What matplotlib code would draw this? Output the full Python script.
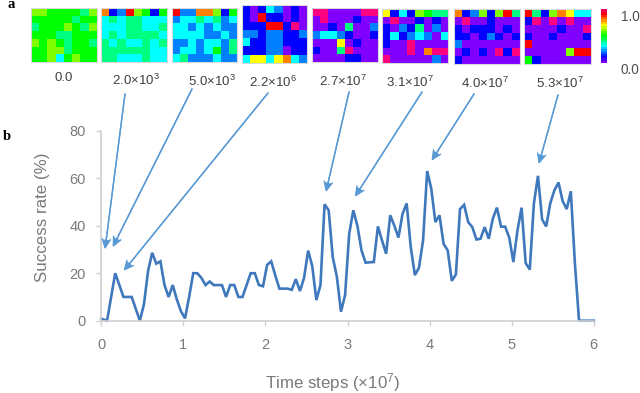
import numpy as np
import matplotlib
matplotlib.use("Agg")
import matplotlib.pyplot as plt
from matplotlib.colors import ListedColormap, LinearSegmentedColormap

W, H = 640, 393

# success rate curve
time_steps = [0.00, 0.07, 0.12, 0.17, 0.22, 0.27, 0.32, 0.37, 0.42, 0.47,
              0.52, 0.57, 0.62, 0.67, 0.72, 0.77, 0.82, 0.87, 0.92, 0.97,
              1.02, 1.07, 1.12, 1.17, 1.22, 1.27, 1.32, 1.37, 1.42, 1.47,
              1.52, 1.57, 1.62, 1.67, 1.72, 1.77, 1.82, 1.87, 1.92, 1.97,
              2.02, 2.07, 2.12, 2.17, 2.22, 2.27, 2.32, 2.37, 2.42, 2.47,
              2.52, 2.57, 2.62, 2.67, 2.72, 2.77, 2.82, 2.87, 2.92, 2.97,
              3.02, 3.07, 3.12, 3.17, 3.22, 3.27, 3.32, 3.37, 3.42, 3.47,
              3.52, 3.57, 3.62, 3.67, 3.72, 3.77, 3.82, 3.87, 3.92, 3.97,
              4.02, 4.07, 4.12, 4.17, 4.22, 4.27, 4.32, 4.37, 4.42, 4.47,
              4.52, 4.57, 4.62, 4.67, 4.72, 4.77, 4.82, 4.87, 4.92, 4.97,
              5.02, 5.07, 5.12, 5.17, 5.22, 5.27, 5.32, 5.37, 5.42, 5.47,
              5.52, 5.57, 5.62, 5.67, 5.72, 5.77, 5.82, 5.87, 5.92, 6.00]
success_rate = [0.8, 0, 10, 20, 15, 10, 10, 10, 5, 0,
                7, 21, 28.6, 24, 25, 15, 10, 15, 9, 4,
                1, 10, 20, 20, 18, 15, 16.5, 15, 15, 15,
                10, 15, 15, 10, 10, 15, 20, 20, 15, 14.5,
                23.5, 25, 19, 13.5, 13.5, 13.5, 13, 17.5, 12.5, 18,
                29.5, 23, 8.7, 15, 49, 46.5, 26.7, 18.5, 3.8, 10.7,
                36.6, 46.5, 40, 29.6, 24.4, 24.6, 24.7, 39.7, 33.8, 28.2,
                44.4, 40, 35, 45, 49.4, 31, 19.2, 22.3, 33.8, 63,
                55.6, 41.5, 44.4, 32.4, 29.6, 16.8, 19.5, 47, 48.8, 41.5,
                39.4, 34.2, 34.5, 39.4, 34.5, 43, 47.6, 39.6, 39.6, 35,
                24.7, 38, 47.6, 24.3, 21.5, 49.3, 61, 42.7, 39.7, 49.5,
                54.9, 58.2, 50.4, 47, 54.5, 24, 0, 0, 0, 0]

# heatmap cells, in tenths of the colour scale
cells_0 = [[6, 6, 5, 5, 5, 5, 4, 6], [5, 5, 5, 5, 5, 4, 5, 5], [4, 5, 5, 5, 6, 5, 4, 6],
           [5, 5, 5, 4, 4, 5, 5, 5], [6, 5, 6, 5, 4, 5, 5, 4], [5, 5, 6, 6, 4, 5, 5, 5],
           [5, 5, 6, 3, 5, 6, 5, 5]]
cells_1 = [[8, 1, 2, 9, 6, 5, 1, 5], [3, 4, 3, 4, 4, 3, 3, 3], [3, 3, 3, 4, 4, 3, 3, 4],
           [3, 4, 3, 4, 4, 4, 4, 3], [4, 3, 4, 3, 3, 4, 3, 4], [4, 4, 4, 4, 4, 4, 3, 3],
           [4, 4, 3, 3, 3, 4, 3, 3]]
cells_2 = [[9, 2, 2, 8, 8, 6, 1, 5], [2, 3, 3, 4, 3, 4, 2, 3], [3, 3, 2, 3, 2, 3, 2, 2],
           [3, 3, 3, 3, 2, 2, 3, 2], [2, 2, 3, 2, 3, 3, 2, 4], [2, 3, 3, 2, 3, 5, 2, 4],
           [3, 4, 2, 2, 2, 3, 2, 2]]
cells_3 = [[1, 0, 1, 3, 2, 0, 1, 0], [1, 0, 9, 1, 1, 0, 1, 0], [1, 1, 1, 9, 9, 1, 10, 0],
           [2, 2, 1, 2, 2, 1, 1, 2], [3, 1, 1, 2, 2, 1, 1, 1], [1, 1, 1, 2, 2, 0, 1, 1],
           [3, 7, 7, 3, 7, 8, 3, 2]]
cells_4 = [[10, 10, 0, 0, 0, 0, 10, 10], [0, 10, 0, 0, 0, 1, 0, 0], [0, 0, 1, 0, 4, 0, 0, 2],
           [2, 3, 3, 2, 1, 0, 0, 1], [0, 0, 0, 7, 0, 1, 0, 0], [1, 0, 0, 4, 10, 0, 0, 0],
           [0, 0, 0, 0, 1, 1, 0, 0]]
cells_5 = [[7, 1, 3, 1, 6, 5, 4, 4], [0, 10, 0, 0, 1, 0, 1, 0], [1, 0, 2, 1, 4, 0, 2, 0],
           [1, 3, 1, 2, 3, 2, 0, 3], [1, 0, 0, 10, 0, 0, 0, 0], [0, 0, 0, 10, 0, 8, 10, 10],
           [10, 0, 0, 0, 0, 0, 2, 0]]
cells_6 = [[8, 1, 2, 6, 1, 6, 9, 4], [0, 10, 0, 0, 1, 0, 0, 0], [1, 0, 1, 1, 1, 0, 1, 0],
           [1, 1, 0, 1, 2, 1, 0, 1], [2, 0, 0, 0, 0, 0, 0, 0], [0, 1, 0, 1, 0, 10, 1, 10],
           [1, 0, 0, 0, 0, 0, 0, 0]]
cells_7 = [[9, 4, 1, 6, 8, 7, 3, 3], [1, 10, 0, 10, 0, 10, 0, 0], [0, 0, 0, 0, 1, 0, 0, 10],
           [1, 0, 0, 1, 0, 0, 0, 1], [9, 0, 0, 0, 0, 0, 0, 0], [0, 0, 0, 0, 0, 6, 9, 9],
           [5, 1, 0, 0, 0, 0, 0, 0]]
panel_cells = [cells_0, cells_1, cells_2, cells_3, cells_4, cells_5, cells_6, cells_7]

panel_labels = ["0.0", r"2.0×10$^{3}$", r"5.0×10$^{3}$", r"2.2×10$^{6}$",
                r"2.7×10$^{7}$", r"3.1×10$^{7}$", r"4.0×10$^{7}$", r"5.3×10$^{7}$"]

scale_colors = ["#7F00FF", "#0000FF", "#0080FF", "#00FFFF", "#00FF80", "#00FF00",
                "#80FF00", "#FFFF00", "#FF8000", "#FF0000", "#FF0080"]

# layout in reference pixels (left, right, top, bottom)
panel_boxes = [(31, 97, 8, 62), (101, 167, 8, 62), (172, 237, 8, 62), (242, 307, 5, 63),
               (312, 378, 8, 62), (382, 448, 9, 63), (454, 520, 9, 64), (524, 591, 9, 64)]
label_xy = [(64, 78), (136, 80), (212, 81), (273, 82), (343, 81), (410, 82), (485, 83), (560, 83)]

# arrow start in pixels, tip in data coordinates
arrow_starts = [(125, 94), (192, 89), (268, 93), (349, 92), (422, 92), (474, 94), (558, 95)]
arrow_tips = [(0.045, 30.1), (0.139, 31), (0.273, 21), (2.737, 54.2),
              (3.09, 52.2), (4.024, 67.4), (5.33, 66)]

plt.rcParams["font.family"] = ["Liberation Sans", "DejaVu Sans"]
plt.rcParams["mathtext.fontset"] = "custom"
plt.rcParams["mathtext.rm"] = "Liberation Sans"
plt.rcParams["mathtext.default"] = "regular"


def px_axes(fig, left, right, top, bottom):
    return fig.add_axes([left / W, 1 - bottom / H, (right - left) / W, (bottom - top) / H])


fig = plt.figure(figsize=(W / 100, H / 100), dpi=100)

# a: heatmaps
cell_cmap = ListedColormap(scale_colors)
for cells, box in zip(panel_cells, panel_boxes):
    ax_h = px_axes(fig, *box)
    ax_h.imshow(np.array(cells) / 10, cmap=cell_cmap, vmin=-0.05, vmax=1.05, aspect="auto",
                interpolation="nearest")
    ax_h.set_xticks([])
    ax_h.set_yticks([])
    for s in ax_h.spines.values():
        s.set_color("#D9D9D9")
        s.set_linewidth(0.8)

for label, (lx, ly) in zip(panel_labels, label_xy):
    fig.text(lx / W, 1 - ly / H, label, ha="center", va="center", fontsize=9.5, color="#404040")

# colour bar
ax_c = px_axes(fig, 601, 607, 9, 63)
bar_cmap = LinearSegmentedColormap.from_list("bar", scale_colors[:-1] + ["#E8006A"])
ax_c.imshow(np.linspace(1, 0, 24)[:, None], cmap=bar_cmap, aspect="auto", interpolation="nearest")
ax_c.axis("off")
fig.text(630 / W, 1 - 17 / H, "1.0", ha="center", va="center", fontsize=9.8, color="#505050")
fig.text(630 / W, 1 - 70 / H, "0.0", ha="center", va="center", fontsize=9.8, color="#505050")

fig.text(8 / W, 1 - 5 / H, "a", family="Liberation Serif", weight="bold", fontsize=10.5,
         ha="left", va="center", color="black")
fig.text(3 / W, 1 - 136 / H, "b", family="Liberation Serif", weight="bold", fontsize=10.5,
         ha="left", va="center", color="black")

# b: success rate
ax = px_axes(fig, 101.3, 593.8, 130.7, 320.7)
ax.plot(time_steps, success_rate, color="#3F78BC", lw=1.9, solid_joinstyle="miter",
        clip_on=False)
ax.set_xlim(0, 6)
ax.set_ylim(0, 80)
ax.set_xticks(range(7))
ax.set_yticks(range(0, 81, 20))
ax.tick_params(labelcolor="#7A7A7A", labelsize=10.5, length=3.6, width=1, color="#D0D0D0")
ax.tick_params(axis="x", pad=8.5)
ax.tick_params(axis="y", pad=7.5)
for side in ("top", "right"):
    ax.spines[side].set_visible(False)
for side in ("left", "bottom"):
    ax.spines[side].set_color("#D0D0D0")
    ax.spines[side].set_linewidth(1.2)
ax.patch.set_alpha(0)

fig.text(42 / W, 1 - 217 / H, "Success rate (%)", rotation=90, ha="center", va="center",
         fontsize=12.2, color="#7A7A7A")
fig.text(333 / W, 1 - 388 / H, r"Time steps (×10$^{7}$)", ha="center", va="baseline",
         fontsize=12.2, color="#7A7A7A")

for (sx, sy), tip in zip(arrow_starts, arrow_tips):
    # filled head plus wider barbs, to get the swept-back arrow shape
    for style in ("-|>,head_length=0.5,head_width=0.2", "->,head_length=0.62,head_width=0.3"):
        ax.annotate("", xy=tip, xycoords="data", xytext=(sx / W, 1 - sy / H),
                    textcoords="figure fraction", annotation_clip=False,
                    arrowprops=dict(arrowstyle=style, lw=1.0, color="#5B9BD5",
                                    shrinkA=0, shrinkB=0))

fig.savefig("out.png", dpi=100)
